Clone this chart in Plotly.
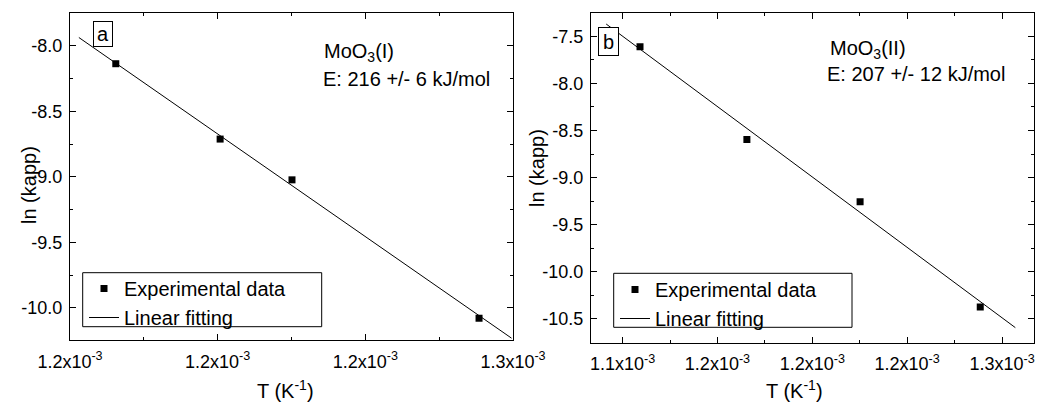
import plotly.graph_objects as go

# ---------------- data ----------------
inv_T_a = [1.1793e-3, 1.2005e-3, 1.2151e-3, 1.2531e-3]
ln_k_a = [-8.137, -8.712, -9.023, -10.079]
fit_x_a = [1.1718e-3, 1.2597e-3]
fit_y_a = [-7.937, -10.231]

inv_T_b = [1.1455e-3, 1.1793e-3, 1.2151e-3, 1.2531e-3]
ln_k_b = [-7.611, -8.596, -9.256, -10.373]
fit_x_b = [1.1348e-3, 1.2642e-3]
fit_y_b = [-7.369, -10.593]

x_ticks_a = [1.17e-3, 1.20e-3, 1.23e-3, 1.26e-3]
x_ticks_b = [1.14e-3, 1.17e-3, 1.20e-3, 1.23e-3, 1.26e-3]
y_ticks_a = [-8.0, -8.5, -9.0, -9.5, -10.0]
y_ticks_b = [-7.5, -8.0, -8.5, -9.0, -9.5, -10.0, -10.5]

label_a = "a"
label_b = "b"
compound_a = "MoO<sub>3</sub>(I)"
compound_b = "MoO<sub>3</sub>(II)"
energy_a = "E: 216 +/- 6 kJ/mol"
energy_b = "E: 207 +/- 12 kJ/mol"
legend_names = ["Experimental data", "Linear fitting"]
x_title = "T (K<sup>-1</sup>)"
y_title = "ln (kapp)"

# ---------------- helpers ----------------
W, H = 1037, 404
FONT = "Liberation Sans, Arial, sans-serif"


def px(x):
    return x / W


def py(y):
    return 1 - y / H


def xlab(v):
    return f"{v * 1e3:.1f}x10<sup>-3</sup>"


def ylab(v):
    return f"{v:.1f}"


fig = go.Figure()

fig.add_trace(go.Scatter(x=inv_T_a, y=ln_k_a, mode="markers", name=legend_names[0],
                         marker=dict(symbol="square", size=7, color="black"),
                         xaxis="x", yaxis="y", legend="legend"))
fig.add_trace(go.Scatter(x=fit_x_a, y=fit_y_a, mode="lines", name=legend_names[1],
                         line=dict(color="black", width=1),
                         xaxis="x", yaxis="y", legend="legend"))
fig.add_trace(go.Scatter(x=inv_T_b, y=ln_k_b, mode="markers", name=legend_names[0],
                         marker=dict(symbol="square", size=7, color="black"),
                         xaxis="x2", yaxis="y2", legend="legend2"))
fig.add_trace(go.Scatter(x=fit_x_b, y=fit_y_b, mode="lines", name=legend_names[1],
                         line=dict(color="black", width=1),
                         xaxis="x2", yaxis="y2", legend="legend2"))

axis_common = dict(
    showline=True, linecolor="black", linewidth=1.3, mirror="allticks",
    ticks="inside", ticklen=6, tickwidth=1, tickcolor="black",
    showgrid=False, zeroline=False, automargin=False,
    tickfont=dict(family=FONT, size=18, color="black"),
)
minor_common = dict(ticks="inside", ticklen=3, tickwidth=1, tickcolor="black", showgrid=False)

fig.update_layout(
    width=W, height=H,
    margin=dict(l=0, r=0, t=0, b=0),
    paper_bgcolor="white", plot_bgcolor="white",
    font=dict(family=FONT, size=18, color="black"),
    xaxis=dict(domain=[px(70), px(513)], range=[1.17e-3, 1.26e-3], anchor="y",
               tickmode="array", tickvals=x_ticks_a, ticktext=[xlab(v) for v in x_ticks_a],
               ticklabelstandoff=5,
               minor=dict(tickmode="linear", tick0=1.185e-3, dtick=0.03e-3, **minor_common),
               **axis_common),
    yaxis=dict(domain=[py(340), py(13)], range=[-10.245, -7.75], anchor="x",
               tickmode="array", tickvals=y_ticks_a, ticktext=[ylab(v) for v in y_ticks_a],
               ticklabelstandoff=3,
               minor=dict(tickmode="linear", tick0=-7.75, dtick=0.5, **minor_common),
               **axis_common),
    xaxis2=dict(domain=[px(591), px(1034)], range=[1.13e-3, 1.2701e-3], anchor="y2",
                tickmode="array", tickvals=x_ticks_b, ticktext=[xlab(v) for v in x_ticks_b],
                ticklabelstandoff=5,
                minor=dict(tickmode="linear", tick0=1.155e-3, dtick=0.03e-3, **minor_common),
                **axis_common),
    yaxis2=dict(domain=[py(342.7), py(13)], range=[-10.753, -7.252], anchor="x2",
                tickmode="array", tickvals=y_ticks_b, ticktext=[ylab(v) for v in y_ticks_b],
                ticklabelstandoff=3,
                minor=dict(tickmode="linear", tick0=-7.75, dtick=0.5, **minor_common),
                **axis_common),
    legend=dict(x=px(84), y=py(269), xanchor="left", yanchor="top",
                bgcolor="rgba(0,0,0,0)", borderwidth=0,
                font=dict(family=FONT, size=20, color="black"),
                tracegroupgap=0),
    legend2=dict(x=px(615), y=py(270), xanchor="left", yanchor="top",
                 bgcolor="rgba(0,0,0,0)", borderwidth=0,
                 font=dict(family=FONT, size=20, color="black"),
                 tracegroupgap=0),
    showlegend=True,
)

# legend frames
fig.add_shape(type="rect", xref="paper", yref="paper",
              x0=px(82.7), x1=px(321.7), y0=py(326.7), y1=py(272.7),
              line=dict(color="black", width=1), layer="above")
fig.add_shape(type="rect", xref="paper", yref="paper",
              x0=px(613.7), x1=px(852), y0=py(327.3), y1=py(273.3),
              line=dict(color="black", width=1), layer="above")

ann_font = dict(family=FONT, size=20, color="black")
# panel labels
fig.add_annotation(xref="paper", yref="paper", x=px(103), y=py(34), text=label_a,
                   showarrow=False, xanchor="center", yanchor="middle", font=ann_font,
                   bordercolor="black", borderwidth=1, bgcolor="white",
                   width=16, height=22, borderpad=1)
fig.add_annotation(xref="paper", yref="paper", x=px(608.5), y=py(41.5), text=label_b,
                   showarrow=False, xanchor="center", yanchor="middle", font=ann_font,
                   bordercolor="black", borderwidth=1, bgcolor="white",
                   width=17, height=25, borderpad=1)
# compound / energy texts
fig.add_annotation(xref="paper", yref="paper", x=px(322), y=py(52), text=compound_a,
                   showarrow=False, xanchor="left", yanchor="middle", font=ann_font)
fig.add_annotation(xref="paper", yref="paper", x=px(321), y=py(79), text=energy_a,
                   showarrow=False, xanchor="left", yanchor="middle", font=ann_font)
fig.add_annotation(xref="paper", yref="paper", x=px(828), y=py(49), text=compound_b,
                   showarrow=False, xanchor="left", yanchor="middle", font=ann_font)
fig.add_annotation(xref="paper", yref="paper", x=px(825), y=py(74), text=energy_b,
                   showarrow=False, xanchor="left", yanchor="middle", font=ann_font)
# axis titles
fig.add_annotation(xref="paper", yref="paper", x=px(29), y=py(185), text=y_title,
                   showarrow=False, textangle=-90, xanchor="center", yanchor="middle",
                   font=ann_font)
fig.add_annotation(xref="paper", yref="paper", x=px(537), y=py(168), text=y_title,
                   showarrow=False, textangle=-90, xanchor="center", yanchor="middle",
                   font=ann_font)
fig.add_annotation(xref="paper", yref="paper", x=px(285), y=py(404), text=x_title,
                   showarrow=False, xanchor="center", yanchor="bottom", font=ann_font)
fig.add_annotation(xref="paper", yref="paper", x=px(794), y=py(404), text=x_title,
                   showarrow=False, xanchor="center", yanchor="bottom", font=ann_font)

fig.write_html("out.html")
